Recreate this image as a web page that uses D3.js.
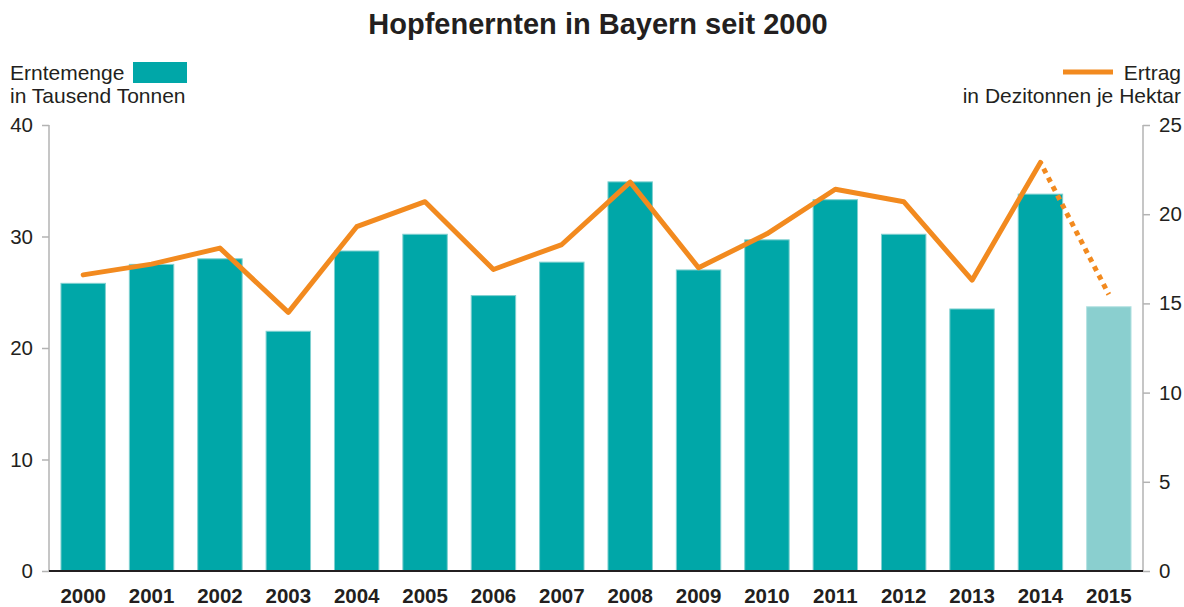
<!DOCTYPE html>
<html>
<head>
<meta charset="utf-8">
<script src="https://cdn.jsdelivr.net/npm/d3@7"></script>
<style>
  body { margin: 0; background: #fff; font-family: "Liberation Sans", Arial, sans-serif; }
</style>
</head>
<body>
<div id="chart"></div>
<script>
// Daten
const years = ["2000", "2001", "2002", "2003", "2004", "2005", "2006", "2007",
               "2008", "2009", "2010", "2011", "2012", "2013", "2014", "2015"];
const menge = [25.8, 27.5, 28.0, 21.5, 28.7, 30.2, 24.7, 27.7,
               34.9, 27.0, 29.7, 33.3, 30.2, 23.5, 33.8, 23.7];
const ertrag = [16.6, 17.2, 18.1, 14.5, 19.3, 20.7, 16.9, 18.3,
                21.8, 17.0, 18.9, 21.4, 20.7, 16.3, 22.9, 15.5];
const leftTicks = [0, 10, 20, 30, 40];
const rightTicks = [0, 5, 10, 15, 20, 25];

const width = 1184, height = 607;
const mLeft = 49, mRight = 1143, mTop = 125, mBottom = 571;
const teal = "#00a7a8", tealLight = "#8acfcf", orange = "#f28a1f";

const svg = d3.select("#chart").append("svg")
    .attr("width", width)
    .attr("height", height);

const x = d3.scaleBand().domain(years).range([mLeft, mRight])
    .paddingInner(0.35).paddingOuter(0.175);
const yL = d3.scaleLinear().domain([0, 40]).range([mBottom, mTop]);
const yR = d3.scaleLinear().domain([0, 25]).range([mBottom, mTop]);

// Titel
svg.append("text")
    .attr("x", 598).attr("y", 34)
    .attr("text-anchor", "middle")
    .attr("font-size", 29).attr("font-weight", "bold")
    .attr("fill", "#231f20")
    .text("Hopfenernten in Bayern seit 2000");

// Legende links
svg.append("text").attr("x", 10).attr("y", 80).attr("font-size", 21).attr("fill", "#231f20").text("Erntemenge");
svg.append("rect").attr("x", 133).attr("y", 62).attr("width", 54).attr("height", 21).attr("fill", teal);
svg.append("text").attr("x", 10).attr("y", 103).attr("font-size", 21).attr("fill", "#231f20").text("in Tausend Tonnen");

// Legende rechts
svg.append("text").attr("x", 1181).attr("y", 80).attr("text-anchor", "end").attr("font-size", 21).attr("fill", "#231f20").text("Ertrag");
svg.append("line").attr("x1", 1063).attr("x2", 1113).attr("y1", 72).attr("y2", 72)
    .attr("stroke", orange).attr("stroke-width", 5);
svg.append("text").attr("x", 1181).attr("y", 103).attr("text-anchor", "end").attr("font-size", 21).attr("fill", "#231f20").text("in Dezitonnen je Hektar");

// Achsen
const axisL = svg.append("g").attr("transform", `translate(${mLeft},0)`)
    .call(d3.axisLeft(yL).tickValues(leftTicks).tickSize(7).tickPadding(9));
const axisR = svg.append("g").attr("transform", `translate(${mRight},0)`)
    .call(d3.axisRight(yR).tickValues(rightTicks).tickSize(7).tickPadding(9));
[axisL, axisR].forEach(a => {
    a.select(".domain").attr("stroke", "#b3b3b3").attr("stroke-width", 1.5)
        .attr("d", `M0,${mBottom}V${mTop}`);
    a.selectAll(".tick line").attr("stroke", "#b3b3b3").attr("stroke-width", 1.5);
    a.selectAll(".tick text").attr("font-size", 20.5).attr("fill", "#231f20")
        .attr("font-family", "Liberation Sans, Arial, sans-serif");
});

// Balken
svg.selectAll(".bar")
    .data(years)
    .enter()
    .append("rect")
    .attr("class", "bar")
    .attr("x", d => x(d))
    .attr("y", (d, i) => yL(menge[i]))
    .attr("width", x.bandwidth())
    .attr("height", (d, i) => mBottom - yL(menge[i]))
    .attr("fill", (d, i) => i === years.length - 1 ? tealLight : teal)
    .attr("stroke", (d, i) => i === years.length - 1 ? "#b5e2e2" : "#7fd0d0")
    .attr("stroke-width", 1);

// Grundlinie
svg.append("line").attr("x1", mLeft).attr("x2", mRight).attr("y1", mBottom).attr("y2", mBottom)
    .attr("stroke", "#231f20").attr("stroke-width", 2);

// Jahreszahlen
svg.selectAll(".year")
    .data(years)
    .enter()
    .append("text")
    .attr("x", d => x(d) + x.bandwidth() / 2)
    .attr("y", 603)
    .attr("text-anchor", "middle")
    .attr("font-size", 20.5).attr("font-weight", "bold")
    .attr("fill", "#231f20")
    .text(d => d);

// Ertragslinie
const pts = years.map((d, i) => [x(d) + x.bandwidth() / 2, yR(ertrag[i])]);
const line = d3.line();
svg.append("path")
    .attr("d", line(pts.slice(0, 15)))
    .attr("fill", "none").attr("stroke", orange).attr("stroke-width", 5)
    .attr("stroke-linejoin", "round").attr("stroke-linecap", "round");
svg.append("path")
    .attr("d", line(pts.slice(14)))
    .attr("fill", "none").attr("stroke", orange).attr("stroke-width", 5)
    .attr("stroke-dasharray", "5,5").attr("stroke-dashoffset", -7);
</script>
</body>
</html>
